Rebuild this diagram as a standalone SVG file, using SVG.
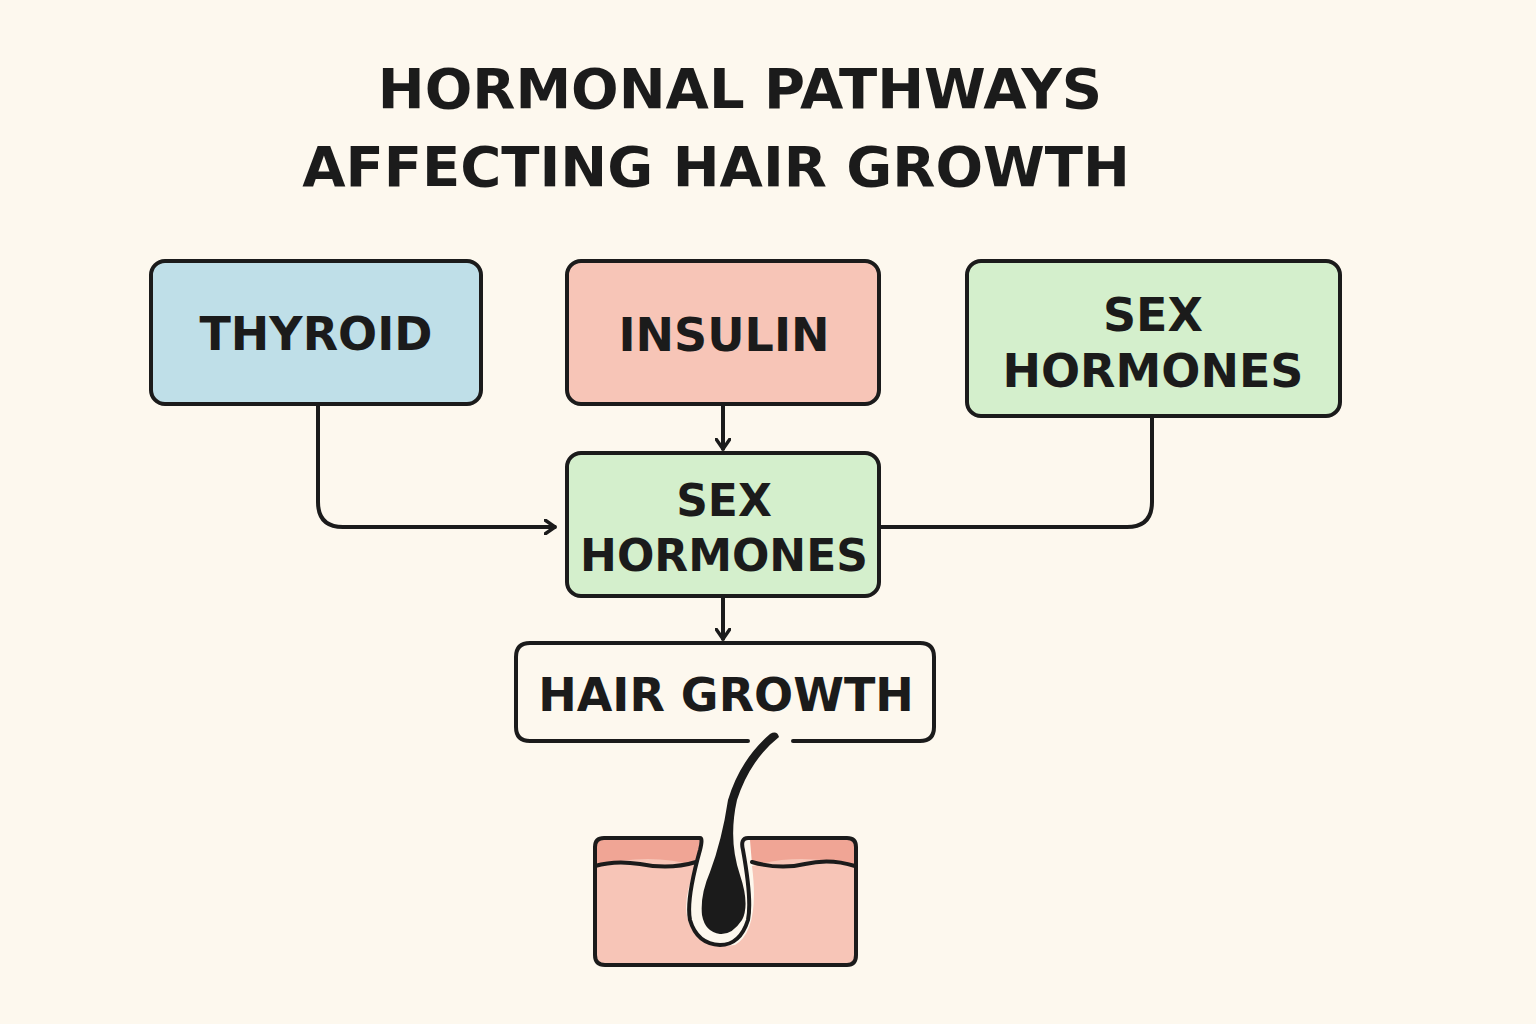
<svg xmlns="http://www.w3.org/2000/svg" width="1536" height="1024" viewBox="0 0 1536 1024">
<style>
.box{stroke:#1b1b1b;stroke-width:4}
.t{font-family:"DejaVu Sans",sans-serif;font-weight:bold;fill:#1b1b1b;text-anchor:middle}
.c{fill:none;stroke:#1b1b1b;stroke-width:4;stroke-linecap:round;stroke-linejoin:round}
</style>
<defs><marker id="a" viewBox="0 0 12 16" refX="11" refY="8" markerWidth="12" markerHeight="16" markerUnits="userSpaceOnUse" orient="auto"><path d="M1 1 L11 8 L1 15" fill="none" stroke="#1b1b1b" stroke-width="3.5" stroke-linecap="round" stroke-linejoin="round"/></marker></defs>
<rect width="1536" height="1024" fill="#fdf8ee"/>
<g id="title"><text class="t" x="740" y="108" font-size="56">HORMONAL PATHWAYS</text><text class="t" x="716" y="186" font-size="56">AFFECTING HAIR GROWTH</text></g>
<g id="connectors">
<path class="c" d="M723 404 V449" marker-end="url(#a)"/>
<path class="c" d="M318 404 V502 Q318 527 343 527 H555" marker-end="url(#a)"/>
<path class="c" d="M1152 416 V502 Q1152 527 1127 527 H879"/>
<path class="c" d="M723 596 V639" marker-end="url(#a)"/>
</g>
<g id="thyroid"><rect class="box" x="151" y="261" width="330" height="143" rx="14" fill="#bfdfe8"/><text class="t" x="316" y="350" font-size="46">THYROID</text></g>
<g id="insulin"><rect class="box" x="567" y="261" width="312" height="143" rx="14" fill="#f7c5b7"/><text class="t" x="724" y="351" font-size="46">INSULIN</text></g>
<g id="sex1"><rect class="box" x="967" y="261" width="373" height="155" rx="14" fill="#d4efcc"/><text class="t" x="1153" y="331" font-size="46">SEX</text><text class="t" x="1153" y="387" font-size="46">HORMONES</text></g>
<g id="sex2"><rect class="box" x="567" y="453" width="312" height="143" rx="14" fill="#d4efcc"/><text class="t" x="724" y="516" font-size="44">SEX</text><text class="t" x="724" y="571" font-size="44">HORMONES</text></g>
<g id="hair"><rect x="516" y="643" width="418" height="98" rx="14" fill="#fdf8ee"/><path class="c" d="M748 741 H530 Q516 741 516 727 V657 Q516 643 530 643 H920 Q934 643 934 657 V727 Q934 741 920 741 H793"/><text class="t" x="726" y="711" font-size="46">HAIR GROWTH</text></g>
<g id="skin">
<path d="M595 840 H700 L696 866 Q650 856 610 866 Q600 868 595 866 Z" fill="#f0a595"/>
<path d="M750 840 H855 V866 Q820 856 790 864 Q765 870 752 864 Z" fill="#f0a595"/>
<path d="M595 866 Q650 852 696 866 Q680 905 690 925 Q705 950 735 945 Q760 930 752 866 Q800 852 855 866 V955 Q855 965 845 965 H605 Q595 965 595 955 Z" fill="#f7c5b7"/>
<path class="c" d="M595 866 Q615 860 640 864 Q670 870 696 862 M752 862 Q780 870 805 864 Q830 858 855 866" stroke-width="5"/>
<path class="c" stroke-width="6" d="M700 838 H604 Q595 838 595 847 V955 Q595 965 605 965 H847 Q856 965 856 955 V847 Q856 838 847 838 H748 Q740 838 743 850 Q752 900 748 920 Q740 945 720 945 Q697 944 690 920 Q686 900 700 850 Q703 838 700 838"/>
<path d="M779 737 Q750 760 737 800 Q728 840 740 875 Q750 905 742 920 Q732 935 720 934 Q705 932 702 915 Q700 895 710 872 Q722 840 728 800 Q740 760 770 734 Q777 730 779 737 Z" fill="#1b1b1b"/>
</g>
</svg>
